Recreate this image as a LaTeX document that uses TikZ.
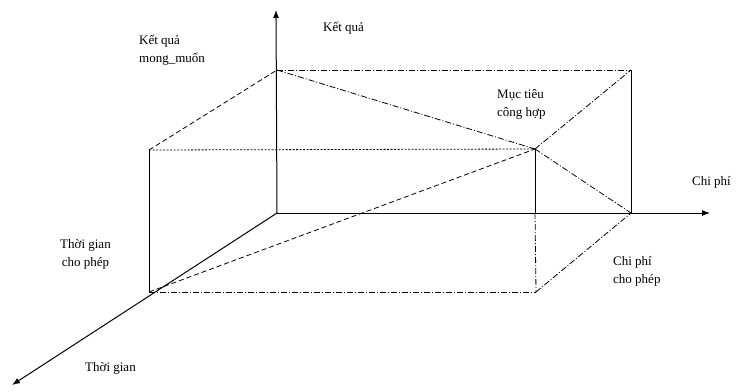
\documentclass[tikz,border=0pt]{standalone}
\usepackage{fontspec}
\setmainfont{Liberation Serif}
\usetikzlibrary{arrows.meta}
\begin{document}
\begin{tikzpicture}[x=1pt,y=-1pt,
  axisline/.style={line width=1pt,-{Latex[length=8pt,width=6pt]}},
  edge/.style={line width=1pt},
  dd/.style={line width=0.8pt,dash pattern=on 6pt off 2pt on 1pt off 2pt},
  dashline/.style={line width=0.8pt,dash pattern=on 5pt off 3pt},
  dotline/.style={line width=0.8pt,dash pattern=on 2pt off 1.5pt},
  lbl/.style={font=\fontsize{13}{18}\selectfont,inner sep=0pt,align=left,anchor=west}]
\useasboundingbox (0,0) rectangle (738,391);
% points
\coordinate (O) at (277,213);
\coordinate (A) at (277,70);
\coordinate (Yt) at (276,10);
\coordinate (T) at (149,292);
\coordinate (Tt) at (12,385);
\coordinate (C) at (631,213);
\coordinate (Xt) at (710,213);
\coordinate (TA) at (149,150);
\coordinate (CA) at (631,70);
\coordinate (M) at (535,149);
\coordinate (MB) at (535,213);
\coordinate (MT) at (536,292);
% axes
\draw[axisline] (O) -- (Yt);
\draw[axisline] (O) -- (Tt);
\draw[axisline] (O) -- (Xt);
% solid verticals
\draw[edge] (TA) -- (T);
\draw[edge] (CA) -- (C);
\draw[edge] (M) -- (MB);
% dashed box edges
\draw[dd] (MB) -- (MT);
\draw[dashline] (TA) -- (A);
\draw[dotline] (TA) -- (M);
\draw[dd] (A) -- (CA);
\draw[dd] (A) -- (M);
\draw[dd] (M) -- (C);
\draw[dd] (M) -- (CA);
\draw[dd] (MT) -- (C);
\draw[dd] (T) -- (MT);
\draw[dashline] (T) -- (M);
% labels
\node[lbl] (lkq) at (323,28) {Kết quả};
\node[lbl] (lkqm) at (139,50) {Kết quả\\mong\_muốn};
\node[lbl] (lmt) at (497,104) {Mục tiêu\\công hợp};
\node[lbl] (lcp) at (692,182) {Chi phí};
\node[lbl] (lcpp) at (613,271) {Chi phí\\cho phép};
\node[lbl,align=center] (ltgp) at (60,254) {Thời gian\\cho phép};
\node[lbl] (ltg) at (85,368) {Thời gian};
\end{tikzpicture}
\end{document}
